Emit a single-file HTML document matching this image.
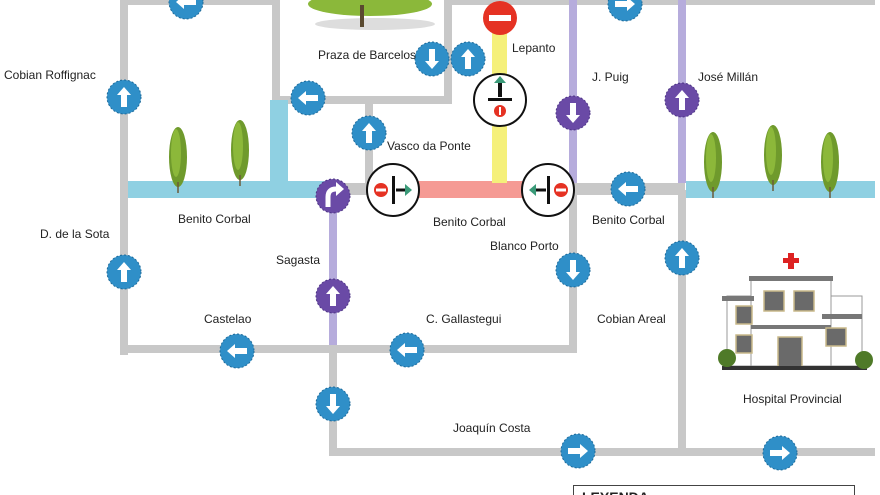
<!DOCTYPE html>
<html><head><meta charset="utf-8"><style>
html,body{margin:0;padding:0;background:#fff;}
svg{display:block;}
text{font-family:"Liberation Sans",sans-serif;font-size:12px;fill:#222;}
</style></head><body>
<svg width="880" height="495" viewBox="0 0 880 495" xmlns="http://www.w3.org/2000/svg">
<defs>
<g id="au"><polygon points="0,-10 7,-2 3,-2 3,10 -3,10 -3,-2 -7,-2" fill="#fff"/></g>
<g id="pop">
<ellipse cx="0" cy="0" rx="9" ry="30" fill="#6f9a2c"/>
<ellipse cx="-2" cy="-4" rx="5" ry="24" fill="#8cb83a"/>
<line x1="0" y1="25" x2="0" y2="36" stroke="#6b5a3a" stroke-width="1.5"/>
</g>
</defs>
<g fill="#c8c8c8">
<rect x="120" y="0" width="8" height="355"/>
<rect x="120" y="0" width="160" height="5"/>
<rect x="272" y="0" width="8" height="102"/>
<rect x="272" y="96" width="180" height="8"/>
<rect x="444" y="0" width="8" height="104"/>
<rect x="452" y="0" width="423" height="5"/>
<rect x="365" y="100" width="8" height="90"/>
<rect x="330" y="183" width="90" height="12"/>
<rect x="525" y="183" width="160" height="12"/>
<rect x="569" y="190" width="8" height="163"/>
<rect x="678" y="190" width="8" height="266"/>
<rect x="120" y="345" width="457" height="8"/>
<rect x="329" y="345" width="8" height="111"/>
<rect x="329" y="448" width="546" height="8"/>
</g>
<g fill="#b6acdc">
<rect x="569" y="0" width="8" height="183"/>
<rect x="678" y="0" width="8" height="183"/>
<rect x="329" y="197" width="8" height="148"/>
</g>
<g fill="#8fd0e2">
<rect x="128" y="181" width="202" height="17"/>
<rect x="270" y="100" width="18" height="81"/>
<rect x="686" y="181" width="189" height="17"/>
</g>
<rect x="418" y="181" width="107" height="17" fill="#f59a94"/>
<rect x="492" y="30" width="15" height="153" fill="#f5f07a"/>

<!-- big tree -->
<ellipse cx="375" cy="24" rx="60" ry="6" fill="#ddd"/>
<ellipse cx="370" cy="4" rx="62" ry="12" fill="#8bb83a"/>
<rect x="360" y="5" width="4" height="22" fill="#5a4a30"/>
<!-- poplars -->
<use href="#pop" x="178" y="157"/>
<use href="#pop" x="240" y="150"/>
<use href="#pop" x="713" y="162"/>
<use href="#pop" x="773" y="155"/>
<use href="#pop" x="830" y="162"/>

<!-- hospital -->
<g>
<rect x="727" y="296" width="135" height="70" fill="#fff" stroke="#999"/>
<rect x="751" y="280" width="80" height="86" fill="#fff" stroke="#999"/>
<rect x="749" y="276" width="84" height="5" fill="#777"/>
<rect x="722" y="296" width="32" height="5" fill="#777"/>
<rect x="822" y="314" width="40" height="5" fill="#777"/>
<rect x="751" y="325" width="80" height="4" fill="#777"/>
<rect x="783" y="258" width="16" height="5" fill="#d22"/>
<rect x="788" y="253" width="6" height="16" fill="#d22"/>
<g fill="#6a6a6a" stroke="#c9b98a" stroke-width="1.5">
<rect x="764" y="291" width="20" height="20"/><rect x="794" y="291" width="20" height="20"/>
<rect x="736" y="306" width="16" height="18"/><rect x="736" y="335" width="16" height="18"/>
<rect x="826" y="328" width="20" height="18"/>
<rect x="778" y="337" width="24" height="30"/>
</g>
<rect x="722" y="366" width="145" height="4" fill="#333"/>
<circle cx="727" cy="358" r="9" fill="#4f7a28"/>
<circle cx="864" cy="360" r="9" fill="#4f7a28"/>
</g>

<!-- signs: blue -->
<g fill="#2f8fc8" stroke="#1e6a99" stroke-width="1" stroke-dasharray="2 2">
<circle cx="186" cy="2" r="17"/><circle cx="625" cy="4" r="17"/>
<circle cx="124" cy="97" r="17"/><circle cx="308" cy="98" r="17"/>
<circle cx="432" cy="59" r="17"/><circle cx="468" cy="59" r="17"/>
<circle cx="369" cy="133" r="17"/><circle cx="628" cy="189" r="17"/>
<circle cx="124" cy="272" r="17"/><circle cx="573" cy="270" r="17"/>
<circle cx="682" cy="258" r="17"/><circle cx="237" cy="351" r="17"/>
<circle cx="407" cy="350" r="17"/><circle cx="333" cy="404" r="17"/>
<circle cx="578" cy="451" r="17"/><circle cx="780" cy="453" r="17"/>
</g>
<g fill="#6a4aa6" stroke="#4e3585" stroke-width="1" stroke-dasharray="2 2">
<circle cx="573" cy="113" r="17"/><circle cx="682" cy="100" r="17"/>
<circle cx="333" cy="196" r="17"/><circle cx="333" cy="296" r="17"/>
</g>
<use href="#au" transform="translate(186,2) rotate(-90)"/>
<use href="#au" transform="translate(625,4) rotate(90)"/>
<use href="#au" transform="translate(124,97)"/>
<use href="#au" transform="translate(308,98) rotate(-90)"/>
<use href="#au" transform="translate(432,59) rotate(180)"/>
<use href="#au" transform="translate(468,59)"/>
<use href="#au" transform="translate(369,133)"/>
<use href="#au" transform="translate(628,189) rotate(-90)"/>
<use href="#au" transform="translate(124,272)"/>
<use href="#au" transform="translate(573,270) rotate(180)"/>
<use href="#au" transform="translate(682,258)"/>
<use href="#au" transform="translate(237,351) rotate(-90)"/>
<use href="#au" transform="translate(407,350) rotate(-90)"/>
<use href="#au" transform="translate(333,404) rotate(180)"/>
<use href="#au" transform="translate(578,451) rotate(90)"/>
<use href="#au" transform="translate(780,453) rotate(90)"/>
<use href="#au" transform="translate(573,113) rotate(180)"/>
<use href="#au" transform="translate(682,100)"/>
<use href="#au" transform="translate(333,296)"/>
<!-- turn right -->
<path d="M328,207 L328,197 Q328,189 336,189 L337,189" stroke="#fff" stroke-width="5" fill="none"/>
<polygon points="344,189 336,182 336,196" fill="#fff"/>

<!-- no entry -->
<circle cx="500" cy="18" r="17" fill="#e53223"/>
<rect x="489" y="15" width="22" height="6" fill="#fff"/>

<!-- lepanto circle -->
<circle cx="500" cy="100" r="26" fill="#fff" stroke="#111" stroke-width="2"/>
<rect x="488" y="98" width="24" height="3" fill="#111"/>
<rect x="498" y="82" width="4" height="15" fill="#111"/>
<polygon points="500,76 506,83 494,83" fill="#3a9a78"/>
<circle cx="500" cy="111" r="6" fill="#e53223"/>
<rect x="499" y="107" width="2" height="8" fill="#fff"/>

<!-- big circles on Benito Corbal -->
<circle cx="393" cy="190" r="26" fill="#fff" stroke="#111" stroke-width="2"/>
<circle cx="381" cy="190" r="7" fill="#e53223"/><rect x="376" y="188.5" width="10" height="3" fill="#fff"/>
<rect x="392" y="176" width="3" height="28" fill="#111"/>
<rect x="396" y="188.5" width="10" height="3" fill="#111"/>
<polygon points="412,190 405,184 405,196" fill="#3a9a78"/>
<circle cx="548" cy="190" r="26" fill="#fff" stroke="#111" stroke-width="2"/>
<circle cx="561" cy="190" r="7" fill="#e53223"/><rect x="556" y="188.5" width="10" height="3" fill="#fff"/>
<rect x="547" y="176" width="3" height="28" fill="#111"/>
<rect x="536" y="188.5" width="10" height="3" fill="#111"/>
<polygon points="529,190 536,184 536,196" fill="#3a9a78"/>

<!-- labels -->
<text x="4" y="79">Cobian Roffignac</text>
<text x="318" y="59">Praza de Barcelos</text>
<text x="512" y="52">Lepanto</text>
<text x="592" y="81">J. Puig</text>
<text x="698" y="81">José Millán</text>
<text x="387" y="150">Vasco da Ponte</text>
<text x="178" y="223">Benito Corbal</text>
<text x="433" y="226">Benito Corbal</text>
<text x="592" y="224">Benito Corbal</text>
<text x="490" y="250">Blanco Porto</text>
<text x="40" y="238">D. de la Sota</text>
<text x="276" y="264">Sagasta</text>
<text x="204" y="323">Castelao</text>
<text x="426" y="323">C. Gallastegui</text>
<text x="597" y="323">Cobian Areal</text>
<text x="743" y="403">Hospital Provincial</text>
<text x="453" y="432">Joaquín Costa</text>

<!-- legend -->
<rect x="573.5" y="485.5" width="281" height="20" fill="#fff" stroke="#444"/>
<text x="582" y="502" style="font-weight:bold;font-size:14px">LEYENDA</text>
</svg>
</body></html>
